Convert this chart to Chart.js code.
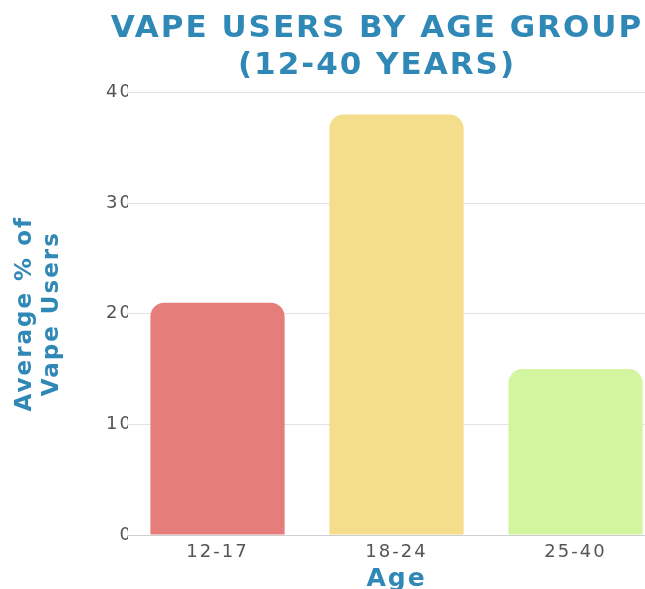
<!DOCTYPE html>
<html>
<head>
<meta charset="utf-8">
<script src="https://cdn.jsdelivr.net/npm/chart.js@4.4.1/dist/chart.umd.min.js"></script>
<style>
  html, body { margin: 0; padding: 0; background: #fff; overflow: hidden; }
  #wrap { width: 645px; height: 589px; overflow: hidden; }
</style>
</head>
<body>
<div id="wrap"><canvas id="chart" width="754" height="600"></canvas></div>
<script>
const ageGroups = ["12-17", "18-24", "25-40"];
const vapeUsers = [21, 38, 15];
const barColors = ["#e57d7a", "#f4de8c", "#d3f5a0"];
const yTicks = [0, 10, 20, 30, 40];

const blue = "#2f88b6";
const heavy = "'DejaVu Sans', sans-serif";
const plain = "'DejaVu Sans', sans-serif";

// the reference text is widely tracked, so space the letters a little
const spacing = {
  id: "spacing",
  beforeUpdate(chart) { chart.ctx.letterSpacing = "2px"; },
  beforeDraw(chart) { chart.ctx.letterSpacing = "2px"; }
};

const ctx = document.getElementById("chart").getContext("2d");

new Chart(ctx, {
  type: "bar",
  data: {
    labels: ageGroups,
    datasets: [{
      data: vapeUsers,
      backgroundColor: barColors,
      borderRadius: { topLeft: 14, topRight: 14 },
      borderSkipped: "start",
      barPercentage: 0.75,
      categoryPercentage: 1
    }]
  },
  plugins: [spacing],
  options: {
    responsive: false,
    devicePixelRatio: 1,
    animation: false,
    layout: { padding: { left: 0, right: 0, top: 0, bottom: 8 } },
    plugins: {
      legend: { display: false },
      tooltip: { enabled: false },
      title: {
        display: true,
        text: ["VAPE USERS BY AGE GROUP", "(12-40 YEARS)"],
        color: blue,
        font: { family: heavy, size: 31, weight: "bold" },
        lineHeight: 1.12,
        padding: { top: 10, bottom: 8 }
      }
    },
    scales: {
      x: {
        grid: { display: false },
        border: { display: true, color: "#cfcfcf" },
        ticks: {
          color: "#555",
          font: { family: plain, size: 18, lineHeight: 1 },
          padding: 0
        },
        title: {
          display: true,
          text: "Age",
          color: blue,
          font: { family: heavy, size: 25, weight: "bold", lineHeight: 1 },
          padding: { top: 6, bottom: 0 }
        }
      },
      y: {
        min: 0,
        max: 40,
        afterBuildTicks: (axis) => {
          axis.ticks = yTicks.map(v => ({ value: v }));
        },
        afterFit: (axis) => { axis.width = 128; },
        grid: { color: "#e3e3e3", drawTicks: false },
        border: { display: false },
        ticks: {
          color: "#555",
          font: { family: plain, size: 18 },
          padding: -5,
          showLabelBackdrop: true,
          backdropColor: "#ffffff",
          backdropPadding: { top: 2, bottom: 2, left: 2, right: 10 }
        },
        title: {
          display: true,
          text: ["Average % of", "Vape Users"],
          color: blue,
          font: { family: heavy, size: 23, weight: "bold" },
          lineHeight: 1.2,
          padding: { top: 11, bottom: 0 }
        }
      },
      // empty right-hand axis: only keeps the plot edge where the reference crops it
      yRight: {
        position: "right",
        min: 0,
        max: 40,
        display: true,
        afterFit: (axis) => { axis.width = 89; },
        grid: { display: false },
        border: { display: false },
        ticks: { display: false }
      }
    }
  }
});
</script>
</body>
</html>
